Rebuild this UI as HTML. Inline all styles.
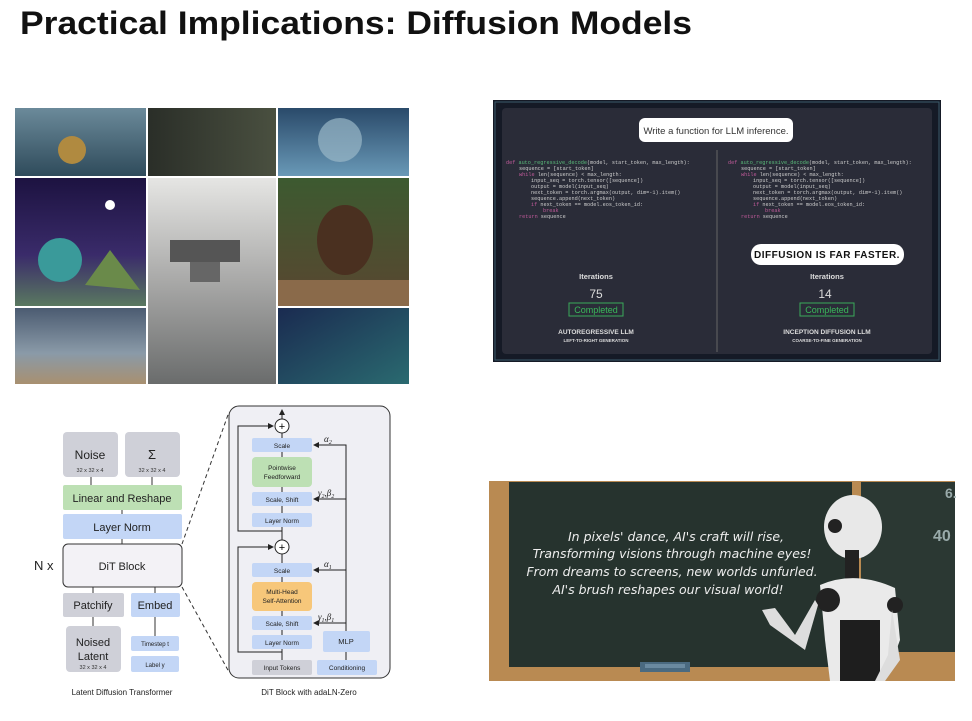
<!DOCTYPE html>
<html><head><meta charset="utf-8"><style>
html,body{margin:0;padding:0;background:#fff;}
svg{display:block;font-family:"Liberation Sans",sans-serif;}
</style></head><body>
<svg width="972" height="721" viewBox="0 0 972 721" xmlns="http://www.w3.org/2000/svg">
<defs>
<linearGradient id="sea" x1="0" y1="0" x2="0" y2="1"><stop offset="0" stop-color="#6b8a9a"/><stop offset="1" stop-color="#2e4a5a"/></linearGradient>
<linearGradient id="space" x1="0" y1="0" x2="0" y2="1"><stop offset="0" stop-color="#1c1240"/><stop offset="0.6" stop-color="#3a2b6a"/><stop offset="1" stop-color="#5a7a60"/></linearGradient>
<linearGradient id="fog" x1="0" y1="0" x2="0" y2="1"><stop offset="0" stop-color="#e6e6e4"/><stop offset="0.5" stop-color="#a9a9a8"/><stop offset="1" stop-color="#6a6c6c"/></linearGradient>
<linearGradient id="bear" x1="0" y1="0" x2="0" y2="1"><stop offset="0" stop-color="#3c5a30"/><stop offset="1" stop-color="#5a4630"/></linearGradient>
<linearGradient id="forest" x1="0" y1="0" x2="1" y2="1"><stop offset="0" stop-color="#1a2a50"/><stop offset="1" stop-color="#2a6a70"/></linearGradient>
<linearGradient id="astro" x1="0" y1="0" x2="0" y2="1"><stop offset="0" stop-color="#2a4a6a"/><stop offset="1" stop-color="#6a9ab8"/></linearGradient>
<linearGradient id="jelly" x1="0" y1="0" x2="1" y2="0"><stop offset="0" stop-color="#2a2e28"/><stop offset="1" stop-color="#4a5040"/></linearGradient>
<linearGradient id="wave" x1="0" y1="0" x2="0" y2="1"><stop offset="0" stop-color="#4a5a70"/><stop offset="0.6" stop-color="#8a9aa8"/><stop offset="1" stop-color="#a89070"/></linearGradient>
<marker id="ah" markerWidth="6" markerHeight="6" refX="5" refY="3" orient="auto"><path d="M0,0 L6,3 L0,6z" fill="#222"/></marker>
</defs>

<text x="20" y="34" font-size="32" font-weight="bold" fill="#111" textLength="672" lengthAdjust="spacingAndGlyphs">Practical Implications: Diffusion Models</text>

<rect x="15" y="108" width="132" height="69" fill="url(#sea)"/>
<circle cx="72" cy="150" r="14" fill="#b08a40"/>
<rect x="15" y="177" width="132" height="130" fill="url(#space)"/>
<circle cx="60" cy="260" r="22" fill="#3a9a9a"/><polygon points="85,285 110,250 140,290" fill="#6a8a4a"/>
<circle cx="110" cy="205" r="5" fill="#fff"/>
<rect x="15" y="307" width="132" height="77" fill="url(#wave)"/>
<rect x="147" y="108" width="130" height="69" fill="url(#jelly)"/>
<rect x="147" y="177" width="130" height="207" fill="url(#fog)"/>
<rect x="170" y="240" width="70" height="22" fill="#555"/><rect x="190" y="262" width="30" height="20" fill="#666"/>
<rect x="277" y="108" width="132" height="69" fill="url(#astro)"/>
<circle cx="340" cy="140" r="22" fill="#9ab8c8" opacity="0.7"/>
<rect x="277" y="177" width="132" height="130" fill="url(#bear)"/>
<ellipse cx="345" cy="240" rx="28" ry="35" fill="#4a3020"/>
<rect x="277" y="280" width="132" height="27" fill="#8a6a4a"/>
<rect x="277" y="307" width="132" height="77" fill="url(#forest)"/>
<g stroke="#fff" stroke-width="2"><line x1="147" y1="108" x2="147" y2="384"/><line x1="277" y1="108" x2="277" y2="384"/><line x1="15" y1="177" x2="409" y2="177"/><line x1="15" y1="307" x2="147" y2="307"/><line x1="277" y1="307" x2="409" y2="307"/></g>

<rect x="493" y="100" width="448" height="262" fill="#151a26"/>
<rect x="495" y="102" width="444" height="258" fill="none" stroke="#3a5a6a" stroke-width="1"/>
<rect x="502" y="108" width="430" height="246" rx="4" fill="#2a2c38"/>
<rect x="639" y="118" width="154" height="24" rx="6" fill="#fff"/>
<text x="716" y="134" font-size="9.5" text-anchor="middle" fill="#333">Write a function for LLM inference.</text>
<line x1="717" y1="150" x2="717" y2="352" stroke="#666" stroke-width="1"/>
<g font-family="Liberation Mono,monospace" font-size="5.2" fill="#ccc">
<text x="506" y="164"><tspan fill="#c05a9a">def </tspan><tspan fill="#5aba7a">auto_regressive_decode</tspan>(model, start_token, max_length):</text>
<text x="519" y="170">sequence = [start_token]</text>
<text x="519" y="176"><tspan fill="#c05a9a">while </tspan>len(sequence) &lt; max_length:</text>
<text x="531" y="182">input_seq = torch.tensor([sequence])</text>
<text x="531" y="188">output = model(input_seq)</text>
<text x="531" y="194">next_token = torch.argmax(output, dim=-1).item()</text>
<text x="531" y="200">sequence.append(next_token)</text>
<text x="531" y="206"><tspan fill="#c05a9a">if </tspan>next_token == model.eos_token_id:</text>
<text x="543" y="212" fill="#c05a9a">break</text>
<text x="519" y="218"><tspan fill="#c05a9a">return </tspan>sequence</text>
<text x="728" y="164"><tspan fill="#c05a9a">def </tspan><tspan fill="#5aba7a">auto_regressive_decode</tspan>(model, start_token, max_length):</text>
<text x="741" y="170">sequence = [start_token]</text>
<text x="741" y="176"><tspan fill="#c05a9a">while </tspan>len(sequence) &lt; max_length:</text>
<text x="753" y="182">input_seq = torch.tensor([sequence])</text>
<text x="753" y="188">output = model(input_seq)</text>
<text x="753" y="194">next_token = torch.argmax(output, dim=-1).item()</text>
<text x="753" y="200">sequence.append(next_token)</text>
<text x="753" y="206"><tspan fill="#c05a9a">if </tspan>next_token == model.eos_token_id:</text>
<text x="765" y="212" fill="#c05a9a">break</text>
<text x="741" y="218"><tspan fill="#c05a9a">return </tspan>sequence</text>
</g>
<rect x="751" y="244" width="153" height="21" rx="10" fill="#fff"/>
<text x="827" y="258" font-size="10" font-weight="bold" text-anchor="middle" fill="#111" letter-spacing="0.5">DIFFUSION IS FAR FASTER.</text>
<g text-anchor="middle" fill="#ddd">
<text x="596" y="279" font-size="7.5" font-weight="bold">Iterations</text>
<text x="596" y="298" font-size="12">75</text>
<rect x="569" y="303" width="54" height="13" fill="none" stroke="#3aaa5a"/>
<text x="596" y="313" font-size="9" fill="#3aba5a">Completed</text>
<text x="596" y="334" font-size="6.5" font-weight="bold">AUTOREGRESSIVE LLM</text>
<text x="596" y="342" font-size="4.5" font-weight="bold">LEFT-TO-RIGHT GENERATION</text>
<text x="827" y="279" font-size="7.5" font-weight="bold">Iterations</text>
<text x="825" y="298" font-size="12">14</text>
<rect x="800" y="303" width="54" height="13" fill="none" stroke="#3aaa5a"/>
<text x="827" y="313" font-size="9" fill="#3aba5a">Completed</text>
<text x="827" y="334" font-size="6.5" font-weight="bold">INCEPTION DIFFUSION LLM</text>
<text x="827" y="342" font-size="4.5" font-weight="bold">COARSE-TO-FINE GENERATION</text>
</g>

<g stroke="#333" stroke-width="1">
<line x1="91" y1="477" x2="91" y2="485"/><line x1="152" y1="477" x2="152" y2="485"/>
<line x1="122" y1="510" x2="122" y2="514"/><line x1="122" y1="539" x2="122" y2="544"/>
<line x1="93" y1="587" x2="93" y2="593"/><line x1="155" y1="587" x2="155" y2="593"/>
<line x1="93" y1="617" x2="93" y2="626"/><line x1="155" y1="617" x2="155" y2="636"/>
</g>
<rect x="63" y="432" width="55" height="45" rx="4" fill="#cfd0d8"/>
<text x="90" y="459" font-size="12" text-anchor="middle" fill="#222">Noise</text>
<text x="90" y="472" font-size="5.5" text-anchor="middle" fill="#333">32 x 32 x 4</text>
<rect x="125" y="432" width="55" height="45" rx="4" fill="#cfd0d8"/>
<text x="152" y="459" font-size="13" text-anchor="middle" fill="#222">Σ</text>
<text x="152" y="472" font-size="5.5" text-anchor="middle" fill="#333">32 x 32 x 4</text>
<rect x="63" y="485" width="119" height="25" rx="2" fill="#bde0b4"/>
<text x="122" y="502" font-size="11" text-anchor="middle" fill="#222">Linear and Reshape</text>
<rect x="63" y="514" width="119" height="25" rx="2" fill="#c3d6f6"/>
<text x="122" y="531" font-size="11" text-anchor="middle" fill="#222">Layer Norm</text>
<rect x="63" y="544" width="119" height="43" rx="5" fill="#f3f2f6" stroke="#333" stroke-width="1"/>
<text x="122" y="570" font-size="11" text-anchor="middle" fill="#222">DiT Block</text>
<text x="34" y="570" font-size="13" fill="#222">N x</text>
<rect x="63" y="593" width="61" height="24" rx="2" fill="#cfd0d8"/>
<text x="93" y="609" font-size="11" text-anchor="middle" fill="#222">Patchify</text>
<rect x="131" y="593" width="49" height="24" rx="2" fill="#c3d6f6"/>
<text x="155" y="609" font-size="11" text-anchor="middle" fill="#222">Embed</text>
<rect x="66" y="626" width="55" height="46" rx="4" fill="#cfd0d8"/>
<text x="93" y="646" font-size="11" text-anchor="middle" fill="#222">Noised</text>
<text x="93" y="660" font-size="11" text-anchor="middle" fill="#222">Latent</text>
<text x="93" y="669" font-size="5.5" text-anchor="middle" fill="#333">32 x 32 x 4</text>
<rect x="131" y="636" width="48" height="15" rx="2" fill="#c3d6f6"/>
<text x="155" y="646" font-size="6" text-anchor="middle" fill="#222">Timestep t</text>
<rect x="131" y="656" width="48" height="16" rx="2" fill="#c3d6f6"/>
<text x="155" y="667" font-size="6" text-anchor="middle" fill="#222">Label y</text>
<text x="122" y="695" font-size="8" text-anchor="middle" fill="#222">Latent Diffusion Transformer</text>
<line x1="182" y1="544" x2="229" y2="412" stroke="#333" stroke-dasharray="4,3"/>
<line x1="182" y1="587" x2="229" y2="672" stroke="#333" stroke-dasharray="4,3"/>

<rect x="229" y="406" width="161" height="272" rx="10" fill="#efeff4" stroke="#333" stroke-width="1"/>
<g stroke="#222" stroke-width="1" fill="none">
<line x1="282" y1="419" x2="282" y2="410" marker-end="url(#ah)"/>
<line x1="282" y1="433" x2="282" y2="540"/>
<line x1="282" y1="554" x2="282" y2="660"/>
<polyline points="282,531 238,531 238,426 273,426" marker-end="url(#ah)"/>
<polyline points="282,652 238,652 238,547 273,547" marker-end="url(#ah)"/>
<line x1="346" y1="660" x2="346" y2="652"/>
<polyline points="346,631 346,445 314,445" marker-end="url(#ah)"/>
<line x1="346" y1="499" x2="314" y2="499" marker-end="url(#ah)"/>
<line x1="346" y1="570" x2="314" y2="570" marker-end="url(#ah)"/>
<line x1="346" y1="623" x2="314" y2="623" marker-end="url(#ah)"/>
</g>
<circle cx="282" cy="426" r="7" fill="#fff" stroke="#222"/><text x="282" y="430" font-size="11" text-anchor="middle">+</text>
<circle cx="282" cy="547" r="7" fill="#fff" stroke="#222"/><text x="282" y="551" font-size="11" text-anchor="middle">+</text>
<g font-size="6.5" text-anchor="middle" fill="#222">
<rect x="252" y="438" width="60" height="14" rx="2" fill="#c3d6f6"/><text x="282" y="448">Scale</text>
<rect x="252" y="457" width="60" height="30" rx="4" fill="#bde0b4"/><text x="282" y="470">Pointwise</text><text x="282" y="479">Feedforward</text>
<rect x="252" y="492" width="60" height="14" rx="2" fill="#c3d6f6"/><text x="282" y="502">Scale, Shift</text>
<rect x="252" y="513" width="60" height="14" rx="2" fill="#c3d6f6"/><text x="282" y="523">Layer Norm</text>
<rect x="252" y="563" width="60" height="14" rx="2" fill="#c3d6f6"/><text x="282" y="573">Scale</text>
<rect x="252" y="582" width="60" height="29" rx="4" fill="#f7c77a"/><text x="282" y="594">Multi-Head</text><text x="282" y="603">Self-Attention</text>
<rect x="252" y="616" width="60" height="14" rx="2" fill="#c3d6f6"/><text x="282" y="626">Scale, Shift</text>
<rect x="252" y="635" width="60" height="14" rx="2" fill="#c3d6f6"/><text x="282" y="645">Layer Norm</text>
<rect x="252" y="660" width="60" height="15" rx="2" fill="#cfd0d8"/><text x="282" y="670">Input Tokens</text>
<rect x="317" y="660" width="60" height="15" rx="2" fill="#c3d6f6"/><text x="347" y="670">Conditioning</text>
<rect x="323" y="631" width="47" height="21" rx="2" fill="#c3d6f6"/><text x="346" y="644" font-size="7.5">MLP</text>
</g>
<g font-family="Liberation Serif,serif" font-style="italic" font-size="9" fill="#222">
<text x="324" y="442">α<tspan font-size="6" dy="2">2</tspan></text>
<text x="318" y="496">γ<tspan font-size="6" dy="2">2</tspan><tspan dy="-2">,β</tspan><tspan font-size="6" dy="2">2</tspan></text>
<text x="324" y="567">α<tspan font-size="6" dy="2">1</tspan></text>
<text x="318" y="620">γ<tspan font-size="6" dy="2">1</tspan><tspan dy="-2">,β</tspan><tspan font-size="6" dy="2">1</tspan></text>
</g>
<text x="309" y="695" font-size="8" text-anchor="middle" fill="#222">DiT Block with adaLN-Zero</text>

<rect x="489" y="481" width="466" height="200" fill="#b98a52"/>
<rect x="509" y="482" width="343" height="185" fill="#26332e"/>
<rect x="861" y="482" width="94" height="170" fill="#2b3833"/>
<rect x="640" y="662" width="50" height="10" fill="#4a6a80"/>
<rect x="645" y="664" width="40" height="4" fill="#6a8aa0"/>
<text x="945" y="498" font-size="14" font-weight="bold" fill="#9aa">6.</text>
<text x="933" y="541" font-size="16" font-weight="bold" fill="#9aa">40</text>
<g fill="#eee" font-family="DejaVu Sans,sans-serif" font-style="italic" font-size="12.5" text-anchor="middle">
<text x="676" y="541">In pixels' dance, AI's craft will rise,</text>
<text x="672" y="558">Transforming visions through machine eyes!</text>
<text x="672" y="576">From dreams to screens, new worlds unfurled.</text>
<text x="668" y="594">AI's brush reshapes our visual world!</text>
</g>
<ellipse cx="853" cy="527" rx="29" ry="32" fill="#e8e8e8"/>
<circle cx="835" cy="526" r="7" fill="#222"/>
<rect x="845" y="550" width="14" height="30" fill="#222"/>
<path d="M820,585 Q855,570 895,588 L900,640 L885,681 L830,681 L825,640z" fill="#eaeaea"/>
<rect x="840" y="620" width="40" height="61" fill="#1e1e1e"/>
<circle cx="828" cy="600" r="12" fill="#222"/>
<path d="M818,605 L805,650 L770,625 L762,610 L775,608 L795,635 L815,600z" fill="#ddd"/>
<circle cx="895" cy="605" r="8" fill="#222"/>
<path d="M892,610 L900,660 L885,681 L875,681 L888,655z" fill="#ddd"/>
</svg>
</body></html>
